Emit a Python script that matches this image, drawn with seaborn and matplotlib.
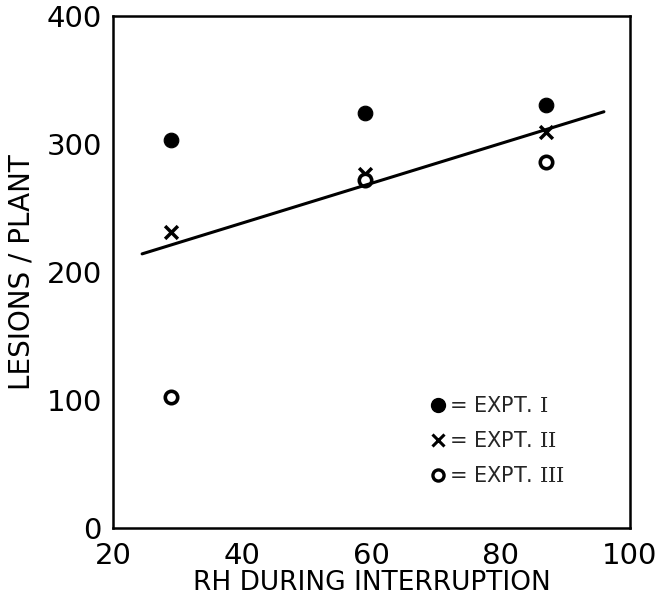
import matplotlib

matplotlib.use("Agg")

import matplotlib.pyplot as plt
import pandas as pd
import seaborn as sns
from matplotlib.lines import Line2D

# 読み取った値
rh = [29, 59, 87]
expt1 = [303, 324, 330]
expt2 = [231, 276, 309]
expt3 = [102, 272, 286]

# 回帰直線の端点
line_x = [24.5, 96]
line_y = [214, 325]

x_ticks = [20, 40, 60, 80, 100]
y_ticks = [0, 100, 200, 300, 400]
legend_labels = [r"= EXPT. $I$", r"= EXPT. $II$", r"= EXPT. $III$"]


def main():
    sns.set_theme(style="white")
    plt.rcParams["font.family"] = ["DejaVu Sans"]
    # ローマ数字だけセリフ体にする
    plt.rcParams["mathtext.fontset"] = "custom"
    plt.rcParams["mathtext.rm"] = "DejaVu Sans"
    plt.rcParams["mathtext.it"] = "DejaVu Serif"
    plt.rcParams["mathtext.default"] = "it"

    df = pd.DataFrame(
        {
            "rh": rh * 3,
            "lesions": expt1 + expt2 + expt3,
            "expt": ["I"] * 3 + ["II"] * 3 + ["III"] * 3,
        }
    )

    fig = plt.figure(figsize=(6.65, 6.04), dpi=100)
    ax = fig.add_axes([0.170, 0.126, 0.777, 0.848])

    sns.lineplot(x=line_x, y=line_y, ax=ax, color="black", linewidth=2.2)

    d1 = df[df["expt"] == "I"]
    d2 = df[df["expt"] == "II"]
    d3 = df[df["expt"] == "III"]
    sns.scatterplot(data=d1, x="rh", y="lesions", ax=ax, marker="o", s=110,
                    color="black", edgecolor="black")
    sns.scatterplot(data=d2, x="rh", y="lesions", ax=ax, marker="x", s=85,
                    color="black", linewidth=2.5)
    sns.scatterplot(data=d3, x="rh", y="lesions", ax=ax, marker="o", s=80,
                    facecolor="white", edgecolor="black", linewidth=2.6)

    ax.set_xlim(20, 100)
    ax.set_ylim(0, 400)
    ax.set_xticks(x_ticks)
    ax.set_yticks(y_ticks)
    ax.set_xticklabels([str(t) for t in x_ticks])
    ax.set_yticklabels([str(t) for t in y_ticks])
    ax.tick_params(axis="x", direction="in", length=8, width=1.8, labelsize=21,
                   pad=10, colors="black")
    ax.tick_params(axis="y", length=0, labelsize=21, pad=8, colors="black")
    ax.set_xlabel("RH DURING INTERRUPTION", fontsize=19, color="black", labelpad=0)
    ax.set_ylabel("LESIONS / PLANT", fontsize=20, color="black", labelpad=8)

    for spine in ax.spines.values():
        spine.set_visible(True)
        spine.set_color("black")
        spine.set_linewidth(1.8)

    handles = [
        Line2D([], [], marker="o", linestyle="none", color="black", markersize=10),
        Line2D([], [], marker="x", linestyle="none", color="black", markersize=8,
               markeredgewidth=2.2),
        Line2D([], [], marker="o", linestyle="none", markerfacecolor="white",
               markeredgecolor="black", markersize=8, markeredgewidth=2.4),
    ]
    ax.legend(handles, legend_labels, loc="lower right", bbox_to_anchor=(0.89, 0.065),
              frameon=False, fontsize=15, handlelength=0.6, handletextpad=0.2,
              labelspacing=0.72, borderaxespad=0)

    fig.savefig("out.png", dpi=100)
    plt.close(fig)


if __name__ == "__main__":
    main()
